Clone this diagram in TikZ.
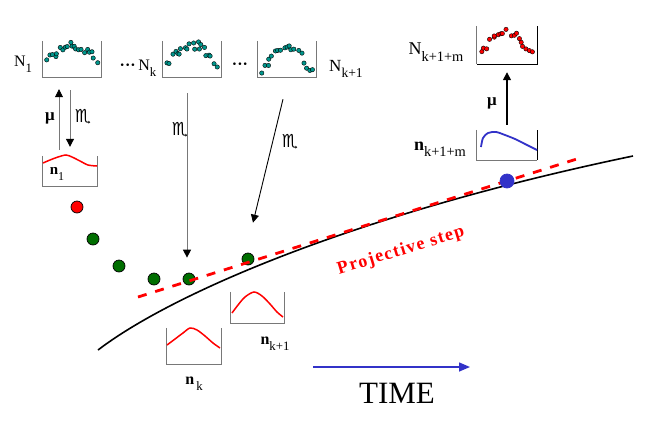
\documentclass[tikz,border=0pt]{standalone}
\usepackage{fontspec}
\setmainfont{Liberation Serif}
\newfontfamily\symf{DejaVu Sans}
\usetikzlibrary{arrows.meta}
\definecolor{teald}{RGB}{0,150,140}
\definecolor{dgreen}{RGB}{0,110,0}
\definecolor{dblue}{RGB}{50,50,200}
\definecolor{boxgray}{RGB}{120,120,120}
\newcommand\sublab[2]{#1\raisebox{-0.35em}{\scalebox{0.8}{#2}}}
\newcommand\scatterdots[6]{%
  \foreach \i in {0,...,#6}{%
    \pgfmathsetmacro\tpar{\i/#6}%
    \pgfmathsetmacro\px{#1+4+\tpar*50+rand*2}%
    \pgfmathsetmacro\py{#2+#3+#4*(1-sin(180*\tpar))+rand*4}%
    \fill[#5, draw=black, line width=0.4pt] (\px,\py) circle[radius=2.2pt];
  }}
\begin{document}
\begin{tikzpicture}[x=1pt,y=-1pt,
  ubox/.style={minimum width=58pt,minimum height=36pt,inner sep=0pt},
  uline/.style={draw=boxgray, line width=1.2pt},
  lab/.style={inner sep=0pt, font=\fontsize{16}{16}\selectfont},
  symlab/.style={inner sep=0pt, font=\symf\fontsize{18}{18}\selectfont},
  dotc/.style={circle, draw=black, line width=0.7pt, minimum width=12pt, minimum height=12pt, inner sep=0pt},
  arr/.style={-{Triangle[length=8pt,width=8pt,black]}},
]
\useasboundingbox (0,0) rectangle (654,437);
\pgfmathsetseed{7}

% top boxes
\node[ubox] (b1) at (72,59) {};
\node[ubox] (b2) at (192,59) {};
\node[ubox] (b3) at (287,59) {};
\node[ubox, minimum width=60pt, minimum height=38pt] (b4) at (507,45) {};
\node[ubox, minimum width=60pt, minimum height=30pt] (b5) at (507,145) {};
\node[ubox, minimum width=54pt, minimum height=30pt] (bn1) at (70,171) {};
\node[ubox, minimum width=54pt, minimum height=36pt] (bnk) at (194,346) {};
\node[ubox, minimum width=53pt, minimum height=31pt] (bnk1) at (257.5,307.5) {};

\foreach \b in {b1,b2,b3,bn1,bnk,bnk1}{
  \draw[uline] (\b.north west) -- (\b.south west) -- (\b.south east) -- (\b.north east);
}
\draw[draw=boxgray, line width=0.8pt] (b4.north west) -- (b4.south west);
\draw[black, line width=1.4pt] (b4.south west) -- (b4.south east) -- (b4.north east);
\draw[draw=boxgray, line width=0.8pt] (b5.north west) -- (b5.south west) -- (b5.south east);
\draw[black, line width=1.2pt] (b5.south east) -- (b5.north east);

% scatter dots
\scatterdots{43}{41}{4}{14}{teald}{20}
\scatterdots{163}{41}{4}{18}{teald}{20}
\scatterdots{258}{41}{7}{25}{teald}{18}
\scatterdots{478}{26}{6}{22}{red}{18}

% curves in the small boxes
\draw[red, line width=1.5pt] plot[smooth] coordinates {(43,163) (50,160) (58,157) (66,155) (72,157) (80,161) (88,165) (97,166)};
\draw[red, line width=1.5pt] plot[smooth] coordinates {(167,345) (175,339) (183,333) (190,328) (197,330) (205,336) (213,343) (220,348)};
\draw[red, line width=1.5pt] plot[smooth] coordinates {(232,313) (238,305) (245,297) (254,292) (262,296) (270,304) (277,312) (283,317)};
\draw[dblue, line width=1.8pt] plot[smooth] coordinates {(481,147) (483,138) (488,133) (496,132) (505,135) (515,139) (525,144) (537,150)};

% labels
\node[lab] (lN1) at (23,64) {\sublab{N}{1}};
\node[lab] (lNk) at (138,68) {\textbf{···}\,\sublab{N}{k}};
\node[lab] (ldots) at (240,66) {\textbf{···}};
\node[lab, font=\fontsize{17}{17}\selectfont] (lNk1) at (346,69) {\sublab{N}{k+1}};
\node[lab, font=\fontsize{18}{18}\selectfont] (lNm) at (436,52) {\sublab{N}{k+1+m}};
\node[lab, font=\fontsize{18}{18}\selectfont] (lnm) at (440,149) {\sublab{\textbf{n}}{k+1+m}};
\node[lab, font=\fontsize{15}{15}\selectfont] (ln1) at (57,174) {\sublab{\textbf{n}}{1}};
\node[lab, font=\fontsize{16}{16}\selectfont] (lnk) at (194,384) {\sublab{\textbf{n}}{\,k}};
\node[lab, font=\fontsize{16}{16}\selectfont] (lnk1) at (275,344) {\sublab{\textbf{n}}{k+1}};
\node[lab, font=\bfseries\fontsize{17}{17}\selectfont] (mu1) at (50,118) {μ};
\node[lab, font=\bfseries\fontsize{17}{17}\selectfont] (mu2) at (492,103) {μ};
\node[symlab] (m1) at (83,117) {♏};
\node[symlab] (m2) at (180,130) {♏};
\node[symlab] (m3) at (290,142) {♏};

% dots
\node[dotc, fill=red] (r1) at (77,207) {};
\node[dotc, fill=dgreen] (g1) at (93,239) {};
\node[dotc, fill=dgreen, minimum width=11pt] (g2) at (119,266) {};
\node[dotc, fill=dgreen] (g3) at (154,279) {};
\node[dotc, fill=dgreen] (g4) at (189,279) {};
\node[dotc, fill=dgreen] (g5) at (248,259) {};

% trajectory and projective step
\draw[black, line width=1.6pt] (98,350) .. controls (170,295) and (350,215) .. (633,156);
\draw[red, line width=2.8pt, dash pattern=on 9pt off 9pt] (138,297) -- (580,158);
\node[dotc, fill=dblue, minimum width=11pt, minimum height=14pt, draw=dblue] (bd) at (507,181) {};
\node[inner sep=0pt, red, font=\bfseries\fontsize{18}{18}\selectfont\addfontfeatures{LetterSpace=8}, rotate=17] (proj) at (401,251) {Projective step};

% arrows
\draw[arr, draw=boxgray, line width=0.7pt] ([xshift=-11pt,yshift=6pt]bn1.north) -- ([xshift=-13pt,yshift=-12pt]b1.south);
\draw[arr, draw=boxgray, line width=1pt] ([xshift=-2pt,yshift=-13pt]b1.south) -- ([yshift=9pt]bn1.north);
\draw[arr, draw=boxgray, line width=1pt] ([xshift=-5pt,yshift=-16pt]b2.south) -- ([xshift=-2pt,yshift=15pt]g4.north);
\draw[arr, black, line width=0.9pt] ([xshift=-4pt,yshift=-22pt]b3.south) -- ([xshift=5pt,yshift=30pt]g5.north);
\draw[arr, black, line width=1.5pt] ([yshift=5pt]b5.north) -- ([yshift=-8pt]b4.south);

% time
\coordinate (t0) at (313,367);
\coordinate (t1) at (470,367);
\draw[dblue, line width=1.5pt, -{Triangle[length=11pt,width=9pt]}] (t0) -- (t1);
\node[inner sep=0pt, font=\fontsize{31}{31}\selectfont] (time) at (397,393) {TIME};
\end{tikzpicture}
\end{document}
